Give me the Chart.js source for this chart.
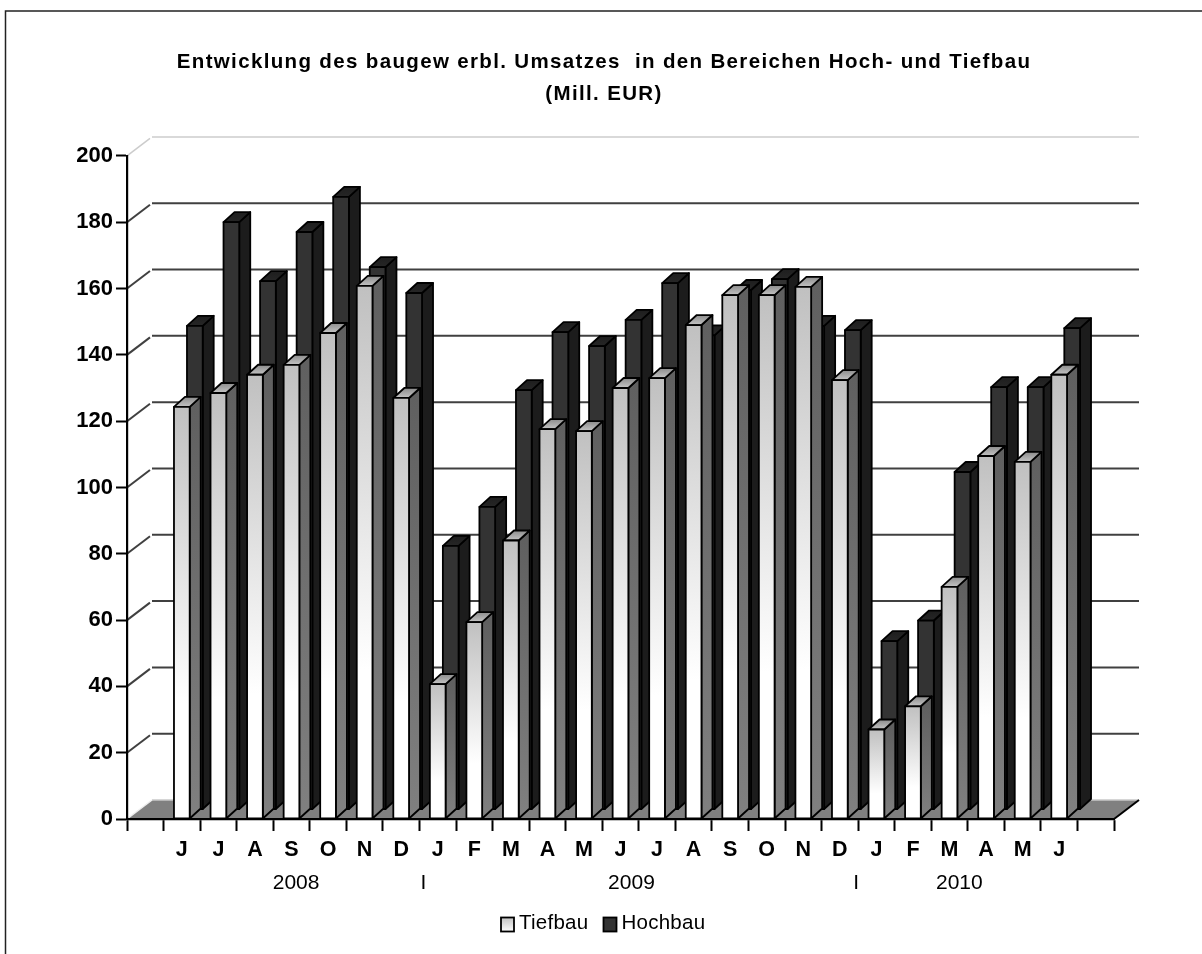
<!DOCTYPE html>
<html><head><meta charset="utf-8">
<style>html,body{margin:0;padding:0;background:#fff}canvas{display:block}</style>
<script src="https://cdn.jsdelivr.net/npm/chart.js@4"></script>
</head><body>
<div style="width:1202px;height:954px"><canvas id="c" width="1202" height="954"></canvas></div>
<script>
const categories = ['', 'J','J','A','S','O','N','D','J','F','M','A','M','J','J','A','S','O','N','D','J','F','M','A','M','J', ''];
const tiefbau = [null,124.3,128.5,134,137,146.6,160.8,127,40.7,59.4,84,117.6,117,130,133,149,158,158,160.5,132.4,27,34,70,109.5,107.7,134,null];
const hochbau = [null,145.9,177.2,159.4,174.2,184.8,163.6,155.8,79.5,91.3,126.5,144,139.8,147.7,158.8,143,156.7,160,145.9,144.6,50.8,57,101.8,127.4,127.4,145.2,null];
const yearLabels = ['2008','I','2009','I','2010'];
const yearAt = [4.125,7.61,13.3,19.45,22.27];
const titleLines = ['Entwicklung des baugew erbl. Umsatzes  in den Bereichen Hoch- und Tiefbau','(Mill. EUR)'];
const legendNames = ['Tiefbau','Hochbau'];

const DEPTH_X = 12, DEPTH_Y = 9.5;   // one bar row of perspective depth
const FONT = '"Liberation Sans", Arial, sans-serif';

function face(ctx, pts, fill){
  ctx.beginPath();
  pts.forEach((p,i)=> i?ctx.lineTo(p[0],p[1]):ctx.moveTo(p[0],p[1]));
  ctx.closePath();
  ctx.fillStyle = fill; ctx.fill();
  ctx.strokeStyle = '#000'; ctx.lineWidth = 1.8; ctx.lineJoin='round'; ctx.stroke();
}
function vgrad(ctx,y0,y1,stops){
  const g = ctx.createLinearGradient(0,y0,0,y1);
  stops.forEach(s=>g.addColorStop(s[0],s[1])); return g;
}
const styles = [
  {front:[[0,'#c0c0c0'],[0.72,'#ffffff'],[1,'#ffffff']], side:[[0,'#606060'],[1,'#808080']], top:[[0,'#8c8c8c'],[1,'#c4c4c4']]},
  {front:[[0,'#333333'],[1,'#333333']], side:[[0,'#1c1c1c'],[1,'#1c1c1c']], top:[[0,'#1e1e1e'],[1,'#262626']]}
];

const threeD = {
  id:'threeD',
  afterLayout(chart){
    const tb = chart.titleBlock;
    if(tb.__spaced) return;
    tb.__spaced = true;
    tb.left += 47; tb.right += 47;
    const draw = tb.draw;
    tb.draw = function(){
      chart.ctx.letterSpacing='1.35px';
      draw.call(tb);
      chart.ctx.letterSpacing='0px';
    };
  },
  beforeDraw(chart){
    const ctx = chart.ctx, {x, y} = chart.scales, a = chart.chartArea;
    const dx = DEPTH_X*2+1, dy = DEPTH_Y*2;
    ctx.save();
    // outer frame
    ctx.strokeStyle='#222'; ctx.lineWidth=1.5;
    ctx.strokeRect(5.5,11,1300,1000);
    const y0 = y.getPixelForValue(0);
    // floor
    ctx.beginPath();
    ctx.moveTo(a.left,y0); ctx.lineTo(a.right,y0); ctx.lineTo(a.right+dx,y0-dy); ctx.lineTo(a.left+dx,y0-dy); ctx.closePath();
    ctx.fillStyle='#808080'; ctx.fill();
    ctx.strokeStyle='#c8c8c8'; ctx.lineWidth=1.5;
    ctx.beginPath(); ctx.moveTo(a.left+dx,y0-dy); ctx.lineTo(a.right+dx,y0-dy); ctx.stroke();
    ctx.strokeStyle='#000'; ctx.lineWidth=2;
    ctx.beginPath(); ctx.moveTo(a.right,y0); ctx.lineTo(a.right+dx,y0-dy); ctx.stroke();
    // wall grid from the value scale
    y.ticks.forEach(t=>{
      if(t.value===0){
        ctx.strokeStyle='#eee'; ctx.lineWidth=1.5;
        const p=y.getPixelForValue(0);
        ctx.beginPath(); ctx.moveTo(a.left,p); ctx.lineTo(a.left+dx,p-dy); ctx.stroke();
        return;
      }
      const p=y.getPixelForValue(t.value);
      const pale = t.value===200;
      ctx.strokeStyle = pale?'#cccccc':'#404040'; ctx.lineWidth=pale?1.5:2;
      ctx.beginPath(); ctx.moveTo(a.left,p); ctx.lineTo(a.left+dx-2,p-dy+1.5); ctx.stroke();
      ctx.beginPath(); ctx.moveTo(a.left+dx,p-dy); ctx.lineTo(a.right+dx,p-dy); ctx.stroke();
    });
    ctx.restore();
  },
  beforeDatasetDraw(chart,args){
    const ctx=chart.ctx, i=args.index, st=styles[i];
    const ox=i*(DEPTH_X+1), oy=-i*DEPTH_Y;
    ctx.save();
    args.meta.data.forEach((b,k)=>{
      if(chart.data.datasets[i].data[k]==null) return;
      const w=b.width, L=b.x-w/2+ox, R=L+w, T=b.y+oy, B=b.base+oy;
      const dx=DEPTH_X-1, dy=DEPTH_Y+0.5;
      face(ctx,[[R,T],[R+dx,T-dy],[R+dx,B-dy],[R,B]],vgrad(ctx,T,B,st.side));
      face(ctx,[[L,T],[L+dx,T-dy],[R+dx,T-dy],[R,T]],vgrad(ctx,T-dy,T,st.top));
      face(ctx,[[L,T],[R,T],[R,B],[L,B]],vgrad(ctx,T,B,st.front));
    });
    ctx.restore();
    return false;
  },
  afterDraw(chart){
    const ctx=chart.ctx,{x,y}=chart.scales;
    ctx.save();
    // axis baseline on top of the bars
    ctx.strokeStyle='#000'; ctx.lineWidth=2.2;
    ctx.beginPath(); ctx.moveTo(chart.chartArea.left,y.getPixelForValue(0)); ctx.lineTo(chart.chartArea.right,y.getPixelForValue(0)); ctx.stroke();
    // year row
    ctx.fillStyle='#000'; ctx.textAlign='center'; ctx.textBaseline='middle';
    ctx.font='21px '+FONT;
    yearLabels.forEach((s,i)=>ctx.fillText(s,x.getPixelForValue(yearAt[i]),883));
    // legend
    ctx.textAlign='left'; ctx.font='20.5px '+FONT;
    const lx=[501,603.5];
    legendNames.forEach((n,i)=>{
      ctx.fillStyle=i?'#333333':(()=>{const g=ctx.createLinearGradient(0,917,0,932);g.addColorStop(0,'#c0c0c0');g.addColorStop(1,'#ffffff');return g;})();
      ctx.fillRect(lx[i],917.5,13,14);
      ctx.strokeStyle='#000';ctx.lineWidth=1.8;ctx.strokeRect(lx[i],917.5,13,14);
      ctx.fillStyle='#000';
      ctx.letterSpacing='0.25px';
      ctx.fillText(n,lx[i]+18,923.5);
    });
    ctx.restore();
  }
};

new Chart(document.getElementById('c'),{
  type:'bar',
  data:{labels:categories,datasets:[
    {label:legendNames[0],data:tiefbau,grouped:false,barPercentage:0.43,categoryPercentage:1,backgroundColor:'#c0c0c0',borderColor:'#000',borderWidth:2},
    {label:legendNames[1],data:hochbau,grouped:false,barPercentage:0.43,categoryPercentage:1,backgroundColor:'#333333',borderColor:'#000',borderWidth:2}
  ]},
  plugins:[threeD],
  options:{
    responsive:false,animation:false,devicePixelRatio:1,
    layout:{padding:{left:0,right:88,top:0,bottom:0}},
    plugins:{
      legend:{display:false},tooltip:{enabled:false},
      title:{display:true,text:titleLines,color:'#000',align:'center',
        font:{family:FONT,size:20.5,weight:'bold',lineHeight:1.56},
        padding:{top:46,bottom:46}}
    },
    scales:{
      x:{type:'category',offset:true,
        afterFit(s){s.height=135;},
        border:{display:true,color:'#000',width:2.2},
        grid:{display:true,offset:true,drawOnChartArea:false,drawTicks:true,tickLength:12,tickColor:'#000',tickWidth:2},
        ticks:{autoSkip:false,maxRotation:0,minRotation:0,color:'#000',padding:6,font:{family:FONT,size:21.5,weight:'bold'}}},
      y:{min:0,max:200,
        afterFit(s){s.width=127;},
        border:{display:true,color:'#000',width:2.2},
        grid:{display:true,drawOnChartArea:false,drawTicks:true,tickLength:11,tickColor:'#000',tickWidth:2},
        ticks:{stepSize:20,color:'#000',padding:3,font:{family:FONT,size:22,weight:'bold'}}}
    }
  }
});
</script></body></html>
